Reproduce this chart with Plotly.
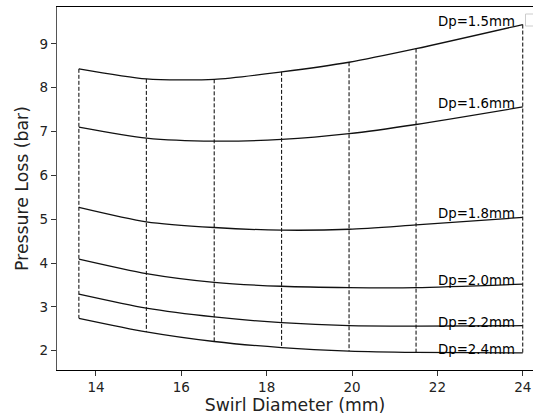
import plotly.graph_objects as go

swirl_d = [13.6, 15.18, 16.77, 18.35, 19.93, 21.5, 24.0]
dp_labels = ["Dp=1.5mm", "Dp=1.6mm", "Dp=1.8mm", "Dp=2.0mm", "Dp=2.2mm", "Dp=2.4mm"]
loss_15 = [8.43, 8.20, 8.19, 8.36, 8.58, 8.89, 9.44]
loss_16 = [7.10, 6.85, 6.78, 6.82, 6.95, 7.16, 7.56]
loss_18 = [5.27, 4.94, 4.81, 4.75, 4.77, 4.87, 5.04]
loss_20 = [4.09, 3.76, 3.56, 3.47, 3.44, 3.44, 3.52]
loss_22 = [3.29, 2.97, 2.77, 2.64, 2.57, 2.56, 2.57]
loss_24 = [2.74, 2.43, 2.21, 2.07, 1.99, 1.96, 1.95]
series = [loss_15, loss_16, loss_18, loss_20, loss_22, loss_24]

W, H = 533, 418
ML, MR, MT, MB = 57, 0, 7, 48

fig = go.Figure()

# vertical dashed connectors
for i, xv in enumerate(swirl_d):
    fig.add_trace(go.Scatter(
        x=[xv, xv], y=[loss_15[i], loss_24[i]], mode="lines",
        line=dict(color="black", width=1, dash="4px,2px"),
        showlegend=False, hoverinfo="skip"))

for name, ys in zip(dp_labels, series):
    fig.add_trace(go.Scatter(
        x=swirl_d, y=ys, mode="lines", name=name,
        line=dict(color="#111111", width=1.3, shape="spline", smoothing=0.7),
        showlegend=False))
    fig.add_annotation(
        x=swirl_d[-1], y=ys[-1], text=name, showarrow=False,
        xanchor="right", yanchor="bottom", xshift=-6, yshift=-6,
        font=dict(family="DejaVu Sans", size=13.3, color="black"))

# cropped empty legend box at top right
fig.add_shape(type="rect", xref="paper", yref="paper",
              x0=(525.5 - ML) / (W - ML - MR), x1=(545 - ML) / (W - ML - MR),
              y0=(370 - 26) / (H - MT - MB), y1=(370 - 14) / (H - MT - MB),
              line=dict(color="#cccccc", width=1), fillcolor="white")

fig.update_layout(
    width=W, height=H,
    margin=dict(l=ML, r=MR, t=MT, b=MB, pad=0),
    plot_bgcolor="white", paper_bgcolor="white",
    font=dict(family="DejaVu Sans", size=13.5, color="#222222"),
    xaxis=dict(
        range=[13.087, 24.24], tickvals=[14, 16, 18, 20, 22, 24],
        showgrid=False, zeroline=False, showline=True, linecolor="black",
        linewidth=1, mirror=True, ticks="outside", ticklen=5, tickcolor="#333",
        title=dict(text="Swirl Diameter (mm)", font=dict(size=17.3), standoff=3)),
    yaxis=dict(
        range=[1.56, 9.84], tickvals=[2, 3, 4, 5, 6, 7, 8, 9],
        showgrid=False, zeroline=False, showline=True, linecolor="#555555",
        linewidth=1.4, ticks="outside", ticklen=5, tickcolor="#333",
        title=dict(text="Pressure Loss (bar)", font=dict(size=17.3), standoff=6)),
)

fig.write_html("out.html")
